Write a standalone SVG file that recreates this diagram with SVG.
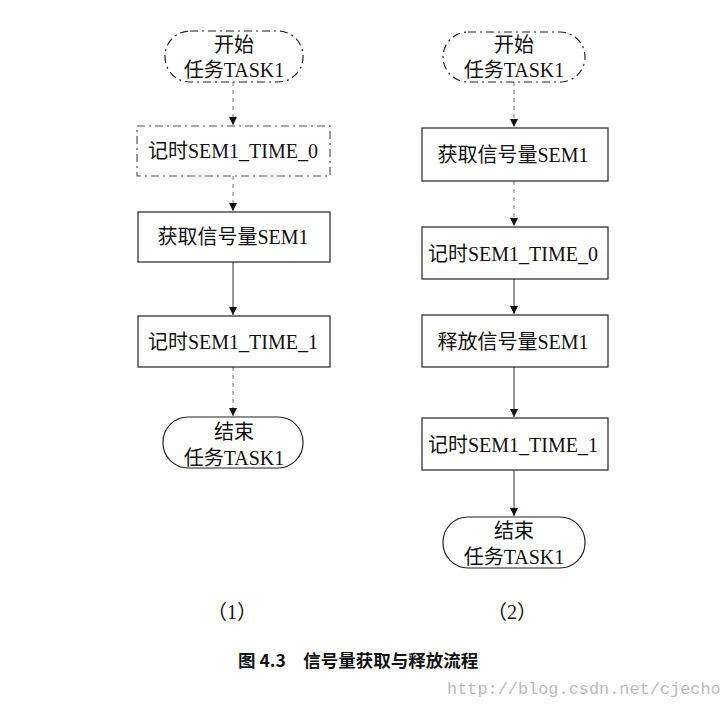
<svg xmlns="http://www.w3.org/2000/svg" width="728" height="706" viewBox="0 0 728 706">
<defs>
<marker id="ah" markerWidth="10" markerHeight="10" refX="9" refY="5" orient="auto" markerUnits="userSpaceOnUse" viewBox="0 0 10 10">
<path d="M1,1 L9,5 L1,9 Z" fill="#111"/>
</marker>
<style>
.box{fill:#fff;stroke:#222;stroke-width:1.2}
.dash{stroke:#555;stroke-dasharray:8 4 2 4}
.term{fill:#fff;stroke:#222;stroke-width:1.2}
.t{font-family:"Liberation Serif","Noto Sans CJK SC",serif;font-size:20px;fill:#111;text-anchor:middle}
.c{fill:none;stroke:#333;stroke-width:1}
.cd{fill:none;stroke:#777;stroke-width:1;stroke-dasharray:4 4}
.cap{font-family:"Liberation Serif","Noto Sans CJK SC",serif;font-size:20px;fill:#111;text-anchor:middle}
</style>
</defs>
<rect width="728" height="706" fill="#fff"/>
<g id="connectors">
<line class="cd" x1="233" y1="82" x2="233" y2="125" marker-end="url(#ah)"/>
<line class="cd" x1="233" y1="176" x2="233" y2="211" marker-end="url(#ah)"/>
<line class="c" x1="233" y1="262" x2="233" y2="315" marker-end="url(#ah)"/>
<line class="cd" x1="233" y1="367" x2="233" y2="416" marker-end="url(#ah)"/>
<line class="cd" x1="514" y1="82" x2="514" y2="127" marker-end="url(#ah)"/>
<line class="cd" x1="514" y1="181" x2="514" y2="226" marker-end="url(#ah)"/>
<line class="c" x1="514" y1="279" x2="514" y2="314" marker-end="url(#ah)"/>
<line class="c" x1="514" y1="367" x2="514" y2="417" marker-end="url(#ah)"/>
<line class="c" x1="514" y1="470" x2="514" y2="516" marker-end="url(#ah)"/>
</g>
<g id="L_start">
<rect class="term dash" x="165" y="31" width="138" height="51" rx="25" ry="25"/>
<text class="t" x="234" y="52">开始</text>
<text class="t" x="234" y="77">任务TASK1</text>
</g>
<g id="L_time0">
<rect class="box dash" x="137" y="126" width="193" height="50"/>
<text class="t" x="233" y="158">记时SEM1_TIME_0</text>
</g>
<g id="L_get">
<rect class="box" x="138" y="212" width="192" height="50"/>
<text class="t" x="233" y="244">获取信号量SEM1</text>
</g>
<g id="L_time1">
<rect class="box" x="138" y="316" width="192" height="51"/>
<text class="t" x="233" y="349">记时SEM1_TIME_1</text>
</g>
<g id="L_end">
<rect class="term" x="163" y="417" width="140" height="51" rx="25" ry="25"/>
<text class="t" x="234" y="439">结束</text>
<text class="t" x="234" y="465">任务TASK1</text>
</g>
<g id="R_start">
<rect class="term dash" x="443" y="32" width="142" height="50" rx="25" ry="25"/>
<text class="t" x="514" y="52">开始</text>
<text class="t" x="514" y="77">任务TASK1</text>
</g>
<g id="R_get">
<rect class="box" x="422" y="128" width="186" height="53"/>
<text class="t" x="513" y="162">获取信号量SEM1</text>
</g>
<g id="R_time0">
<rect class="box" x="422" y="227" width="186" height="52"/>
<text class="t" x="513" y="261">记时SEM1_TIME_0</text>
</g>
<g id="R_release">
<rect class="box" x="422" y="315" width="186" height="52"/>
<text class="t" x="513" y="349">释放信号量SEM1</text>
</g>
<g id="R_time1">
<rect class="box" x="422" y="418" width="186" height="52"/>
<text class="t" x="513" y="452">记时SEM1_TIME_1</text>
</g>
<g id="R_end">
<rect class="term" x="443" y="517" width="142" height="51" rx="25" ry="25"/>
<text class="t" x="514" y="538">结束</text>
<text class="t" x="514" y="564">任务TASK1</text>
</g>
<g id="labels">
<text class="cap" x="232" y="619">（1）</text>
<text class="cap" x="512" y="619">（2）</text>
<text x="238" y="667" style="font-family:'Noto Sans CJK SC','Liberation Serif',sans-serif;font-size:17.5px;font-weight:bold;fill:#111">图 4.3　信号量获取与释放流程</text>
<text x="447" y="694" style="font-family:'Liberation Mono','DejaVu Sans Mono',monospace;font-size:16.9px;fill:#bbb">http://blog.csdn.net/cjecho</text>
</g>
</svg>
